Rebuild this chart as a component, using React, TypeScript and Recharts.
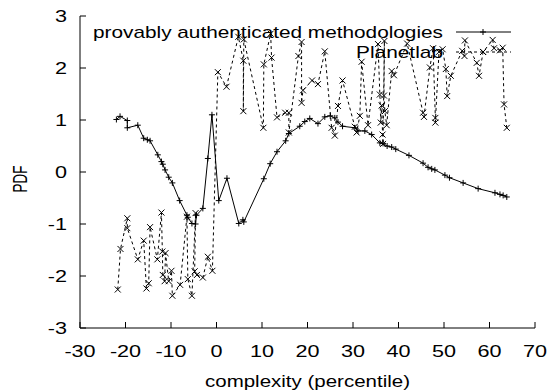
import React from 'react';
import { LineChart, Line, XAxis, YAxis } from 'recharts';

// x positions (complexity percentile) and PDF values
const authX = [-22.0, -21.2, -19.6, -19.6, -17.3, -16.0, -15.2, -14.6, -12.9, -12.1,
  -11.8, -11.3, -10.5, -9.7, -8.1, -6.5, -6.3, -5.4, -4.6, -4.4,
  -3.0, -1.9, -1.0, 0.5, 2.3, 4.9, 5.8, 6.0, 10.4, 11.8,
  13.3, 15.2, 15.9, 18.3, 19.4, 20.5, 22.3, 23.8, 25.0, 26.0,
  26.7, 27.7, 30.4, 31.1, 32.6, 34.1, 35.9, 36.6, 37.5, 38.5,
  39.4, 42.3, 45.4, 46.5, 47.3, 48.0, 50.2, 51.2, 54.2, 57.5,
  61.2, 62.3, 63.0, 63.8];
const authPdf = [1.01, 1.07, 0.99, 0.85, 0.90, 0.65, 0.62, 0.60, 0.33, 0.20,
  0.15, 0.04, -0.10, -0.21, -0.55, -0.83, -0.87, -0.99, -1.00, -0.83,
  -0.70, 0.26, 1.10, -0.55, -0.12, -0.99, -0.92, -0.96, -0.13, 0.16,
  0.39, 0.60, 0.74, 0.88, 0.97, 1.03, 0.93, 1.06, 1.08, 1.04,
  0.96, 0.88, 0.85, 0.79, 0.79, 0.72, 0.56, 0.55, 0.50, 0.48,
  0.44, 0.32, 0.17, 0.09, 0.06, 0.04, -0.06, -0.11, -0.21, -0.32,
  -0.40, -0.43, -0.45, -0.48];

const planetX = [-21.7, -21.1, -19.6, -19.6, -17.3, -16.0, -15.4, -14.9, -14.6, -13.0,
  -12.1, -11.9, -11.8, -11.4, -11.2, -10.5, -9.9, -9.7, -8.0, -6.5,
  -6.3, -5.4, -4.6, -4.8, -4.3, -3.0, -1.9, -0.9, 0.3, 2.2,
  4.8, 5.9, 5.9, 6.0, 10.3, 10.4, 11.9, 12.1, 13.3, 15.1,
  15.9, 15.9, 18.0, 18.7, 18.7, 19.0, 21.0, 22.3, 23.8, 25.3,
  26.0, 26.7, 27.7, 30.4, 30.8, 31.5, 31.9, 33.3, 35.5, 35.9,
  36.1, 36.3, 36.5, 36.6, 36.9, 36.8, 37.0, 37.4, 38.5, 39.0,
  41.9, 45.4, 45.6, 46.9, 47.6, 48.1, 48.1, 48.9, 49.7, 50.4,
  50.7, 51.5, 54.0, 54.5, 54.6, 57.2, 57.7, 58.6, 60.7, 61.0,
  62.3, 62.9, 63.2, 63.8];
const planetPdf = [-2.26, -1.48, -0.89, -1.08, -1.68, -1.32, -2.24, -2.14, -1.06, -1.68,
  -0.78, -1.53, -1.98, -2.10, -1.56, -2.10, -1.90, -2.38, -2.17, -0.86,
  -2.06, -2.38, -0.79, -1.91, -1.98, -2.03, -1.63, -1.90, 1.92, 1.64,
  2.60, 2.14, 1.17, 2.55, 0.85, 2.07, 2.66, 2.20, 1.05, 1.14,
  1.14, 0.76, 2.23, 2.50, 1.33, 1.57, 1.76, 1.69, 2.32, 0.85,
  0.70, 1.27, 1.76, 0.87, 0.76, 1.08, 2.12, 0.90, 2.46, 1.49,
  0.95, 1.28, 0.72, 0.54, 2.52, 1.47, 1.17, 0.90, 1.94, 1.86,
  2.47, 1.14, 1.06, 2.01, 2.38, 1.04, 0.95, 2.31, 2.36, 1.98,
  1.46, 1.85, 2.33, 2.23, 2.53, 2.10, 1.85, 2.31, 2.54, 2.38,
  2.34, 2.39, 1.30, 0.85];

const xTicks = [-30, -20, -10, 0, 10, 20, 30, 40, 50, 60, 70];
const yTicks = [-3, -2, -1, 0, 1, 2, 3];

const authData = authX.map((x, i) => ({ x, pdf: authPdf[i] }));
const planetData = planetX.map((x, i) => ({ x, pdf: planetPdf[i] }));

const FONT = '"Liberation Sans", Arial, Helvetica, sans-serif';
const SX = 1.27; // gnuplot text in the picture is stretched sideways
const TL = 6;

const plusPath = (x: number, y: number, r = 3) => `M${x - r},${y}H${x + r}M${x},${y - r}V${y + r}`;
const crossPath = (x: number, y: number, r = 3) => `M${x - r},${y - r}L${x + r},${y + r}M${x - r},${y + r}L${x + r},${y - r}`;

const PlusDot = (props: any) => {
  const { cx, cy, index } = props;
  if (cx == null || cy == null) return null;
  return <path key={`p${index}`} d={plusPath(cx, cy)} stroke="#000" strokeWidth={1} fill="none" />;
};
const CrossDot = (props: any) => {
  const { cx, cy, index } = props;
  if (cx == null || cy == null) return null;
  return <path key={`c${index}`} d={crossPath(cx, cy)} stroke="#000" strokeWidth={1} fill="none" />;
};

const BottomTick = (props: any) => {
  const { x, y, payload } = props;
  return (
    <g>
      <line x1={x} y1={y} x2={x} y2={y - TL} stroke="#000" />
      <text transform={`translate(${x},${y + 29}) scale(${SX},1)`} textAnchor="middle"
        fontFamily={FONT} fontSize={17} fill="#000">{payload.value}</text>
    </g>
  );
};
const TopTick = (props: any) => {
  const { x, y } = props;
  return <line x1={x} y1={y} x2={x} y2={y + TL} stroke="#000" />;
};
const LeftTick = (props: any) => {
  const { x, y, payload } = props;
  return (
    <g>
      <line x1={x} y1={y} x2={x + TL} y2={y} stroke="#000" />
      <text transform={`translate(${x - 13},${y + 6}) scale(${SX},1)`} textAnchor="end"
        fontFamily={FONT} fontSize={17} fill="#000">{payload.value}</text>
    </g>
  );
};
const RightTick = (props: any) => {
  const { x, y } = props;
  return <line x1={x} y1={y} x2={x - TL} y2={y} stroke="#000" />;
};

export default function App() {
  return (
    <div style={{ position: 'absolute', left: 0, top: 0, background: '#fff' }}>
      <LineChart width={550} height={392} margin={{ top: 16, right: 15, bottom: 0, left: 0 }}>
        <XAxis dataKey="x" type="number" domain={[-30, 70]} ticks={xTicks} interval={0}
          allowDataOverflow height={64} tickSize={0} tickMargin={0} tickLine={false}
          axisLine={{ stroke: '#000' }} tick={<BottomTick />} />
        <XAxis xAxisId="top" orientation="top" dataKey="x" type="number" domain={[-30, 70]}
          ticks={xTicks} interval={0} height={0} tickSize={0} tickMargin={0} tickLine={false}
          axisLine={{ stroke: '#000' }} tick={<TopTick />} />
        <YAxis type="number" domain={[-3, 3]} ticks={yTicks} interval={0} allowDataOverflow
          width={80} tickSize={0} tickMargin={0} tickLine={false}
          axisLine={{ stroke: '#000' }} tick={<LeftTick />} />
        <YAxis yAxisId="right" orientation="right" type="number" domain={[-3, 3]} ticks={yTicks}
          interval={0} width={0} tickSize={0} tickMargin={0} tickLine={false}
          axisLine={{ stroke: '#000' }} tick={<RightTick />} />
        <Line data={authData} dataKey="pdf" type="linear" stroke="#000" strokeWidth={1}
          dot={<PlusDot />} activeDot={false} isAnimationActive={false} />
        <Line data={planetData} dataKey="pdf" type="linear" stroke="#000" strokeWidth={1}
          strokeDasharray="3 3" dot={<CrossDot />} activeDot={false} isAnimationActive={false} />

        {/* key, gnuplot style */}
        <g>
          <text x={443} y={38} textAnchor="end" fontFamily={FONT} fontSize={17}
            textLength={350} lengthAdjust="spacingAndGlyphs">provably authenticated methodologies</text>
          <line x1={456} y1={32} x2={511} y2={32} stroke="#000" />
          <path d={plusPath(483, 32)} stroke="#000" />
          <text x={443} y={58} textAnchor="end" fontFamily={FONT} fontSize={17}
            textLength={87} lengthAdjust="spacingAndGlyphs">Planetlab</text>
          <line x1={456} y1={52} x2={511} y2={52} stroke="#000" strokeDasharray="3 3" />
          <path d={crossPath(483, 52)} stroke="#000" />
        </g>
        <text x={307.5} y={387} textAnchor="middle" fontFamily={FONT} fontSize={17}
          textLength={205} lengthAdjust="spacingAndGlyphs">complexity (percentile)</text>
        <text transform="translate(27,179) rotate(-90) scale(1,1.45)" textAnchor="middle"
          fontFamily={FONT} fontSize={13.5}>PDF</text>
      </LineChart>
    </div>
  );
}
